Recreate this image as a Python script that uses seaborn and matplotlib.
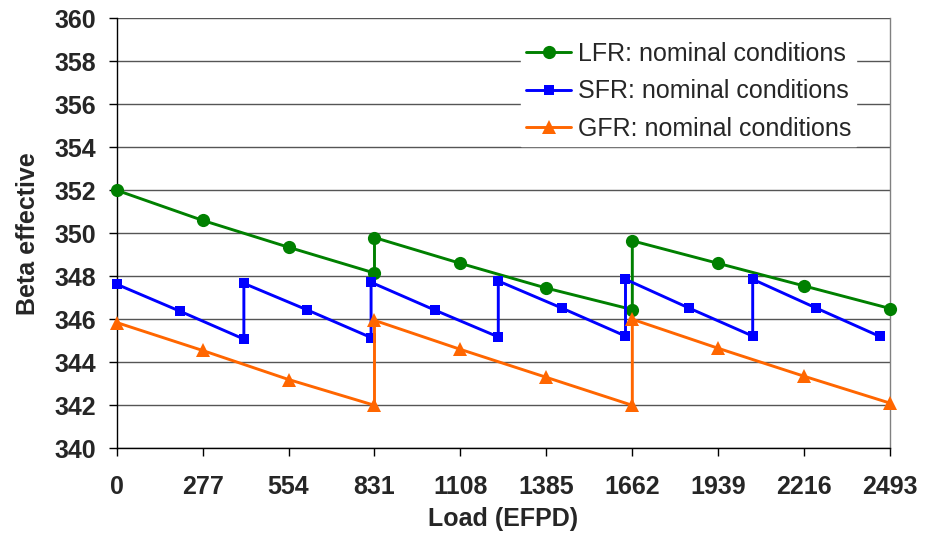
import matplotlib
matplotlib.use("Agg")
import matplotlib.pyplot as plt
import pandas as pd
import seaborn as sns

# Load points (EFPD) and beta-effective values for each reactor concept
lfr_load = [0, 277, 554, 831, 831, 1108, 1385, 1662, 1662, 1939, 2216, 2493]
lfr_beta = [352.0, 350.6, 349.35, 348.15, 349.8, 348.6, 347.45, 346.45, 349.65, 348.6, 347.55, 346.5]

sfr_load = [0, 205, 410, 410, 615, 820, 820, 1025, 1230, 1230, 1435, 1640, 1640,
            1845, 2050, 2050, 2255, 2460]
sfr_beta = [347.63, 346.37, 345.08, 347.67, 346.43, 345.15, 347.72, 346.43, 345.18,
            347.78, 346.52, 345.22, 347.86, 346.52, 345.22, 347.86, 346.52, 345.2]

gfr_load = [0, 277, 554, 831, 831, 1108, 1385, 1662, 1662, 1939, 2216, 2493]
gfr_beta = [345.85, 344.55, 343.2, 342.0, 345.95, 344.6, 343.3, 342.0, 346.0, 344.65, 343.35, 342.1]

series_names = ["LFR: nominal conditions", "SFR: nominal conditions", "GFR: nominal conditions"]
x_ticks = [0, 277, 554, 831, 1108, 1385, 1662, 1939, 2216, 2493]
y_ticks = list(range(340, 361, 2))

sns.set_style("white")
plt.rcParams["font.family"] = ["Liberation Sans", "DejaVu Sans"]

fig = plt.figure(figsize=(9.37, 5.35), dpi=100)
ax = fig.add_axes([0.1245, 0.162, 0.8255, 0.804])

styles = [
    dict(color="#008000", marker="o", markersize=9.5),
    dict(color="#0000FF", marker="s", markersize=6.5),
    dict(color="#FF6600", marker="^", markersize=10),
]
for name, load, beta, st in zip(series_names, [lfr_load, sfr_load, gfr_load],
                                [lfr_beta, sfr_beta, gfr_beta], styles):
    df = pd.DataFrame({"load": load, "beta": beta})
    sns.lineplot(data=df, x="load", y="beta", ax=ax, sort=False, estimator=None,
                 color=st["color"], marker=st["marker"], markersize=st["markersize"],
                 markeredgewidth=0, linewidth=2.1, label=name, clip_on=False, zorder=3)

ax.set_xlim(0, 2493)
ax.set_ylim(340, 360)
ax.set_xticks(x_ticks)
ax.set_yticks(y_ticks)
ax.set_xticklabels([str(t) for t in x_ticks])
ax.set_yticklabels([str(t) for t in y_ticks])
ax.yaxis.grid(True, color="#555555", linewidth=1.0)
ax.xaxis.grid(False)

for lab in ax.get_xticklabels() + ax.get_yticklabels():
    lab.set_fontweight("bold")
ax.tick_params(axis="both", labelsize=18, direction="out", length=6, width=1,
               color="black", bottom=True, left=True)
ax.tick_params(axis="y", pad=9)
ax.tick_params(axis="x", pad=13)

ax.spines["left"].set_color("black")
ax.spines["bottom"].set_color("black")
ax.spines["right"].set_color("#808080")
ax.spines["top"].set_visible(False)
for s in ax.spines.values():
    s.set_linewidth(1.0)

ax.set_xlabel("Load (EFPD)", fontsize=18, fontweight="bold", labelpad=6)
ax.set_ylabel("Beta effective", fontsize=18, fontweight="bold", labelpad=10)

leg = ax.legend(loc="upper left", bbox_to_anchor=(0.5071, 0.9853), frameon=True,
                fancybox=False, edgecolor="white", facecolor="white", framealpha=1,
                fontsize=18, handlelength=1.8, handletextpad=0.25, labelspacing=0.53,
                borderpad=0.2)
for h in leg.get_lines():
    h.set_linewidth(2.1)

fig.savefig("out.png", dpi=100)
